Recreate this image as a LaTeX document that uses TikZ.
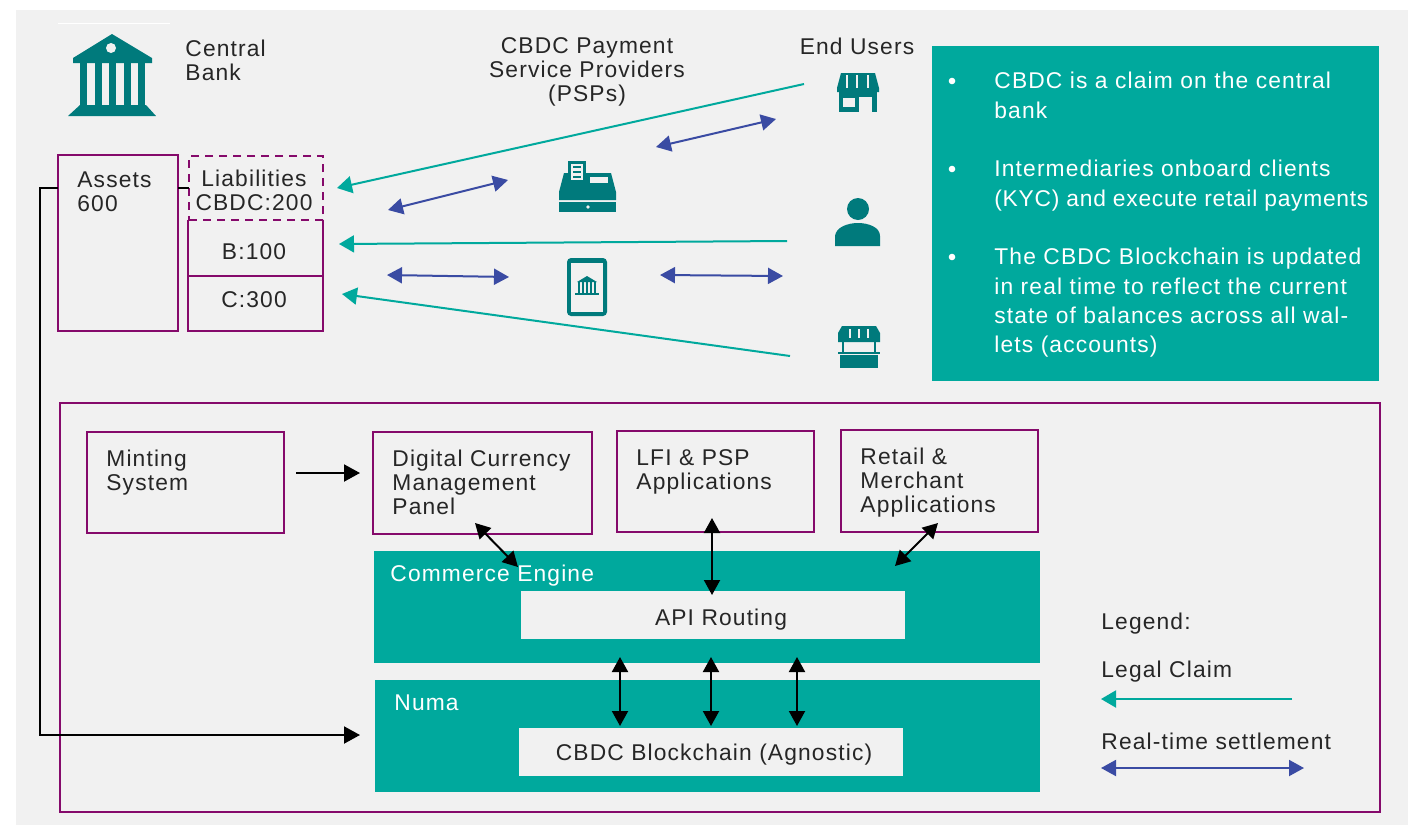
\documentclass[tikz,border=0pt]{standalone}
\usepackage{fontspec}
\setmainfont[LetterSpace=5]{Liberation Sans}
\usetikzlibrary{arrows.meta}
\definecolor{tealbox}{HTML}{00A99D}
\definecolor{tealicon}{HTML}{007A7C}
\definecolor{plum}{HTML}{850A6B}
\definecolor{settle}{HTML}{3A4BA3}
\definecolor{panel}{HTML}{F1F1F1}
\tikzset{
	boxline/.style={draw=plum,line width=1.4pt,inner sep=0pt,outer sep=0pt},
	label/.style={align=left,anchor=north west,font=\fontsize{11.4}{12}\selectfont,text=black!85,inner sep=0pt},
	mid/.style={align=center,font=\fontsize{11.4}{12}\selectfont,text=black!85,inner sep=0pt},
	whitetxt/.style={align=left,anchor=north west,font=\fontsize{11.4}{14.6}\selectfont,text=white,inner sep=0pt},
	claim/.style={-{Triangle[length=7.5pt,width=8.5pt]},draw=tealbox,line width=1pt},
	settlement/.style={{Triangle[length=7.5pt,width=8pt]}-{Triangle[length=7.5pt,width=8pt]},draw=settle,line width=1pt},
	link/.style={{Triangle[length=7.5pt,width=8pt]}-{Triangle[length=7.5pt,width=8pt]},draw=black,line width=1pt},
	feed/.style={-{Triangle[length=8pt,width=8.5pt]},draw=black,line width=1pt},
}
\begin{document}
\begin{tikzpicture}[x=0.5pt,y=-0.5pt]
	\useasboundingbox (0,0) rectangle (1408,825);
	\fill [panel] (16,10) rectangle (1408,825);
	\draw [white,line width=.5pt] (58,23) -- (170,23);
	% central bank icon
	\fill [tealicon] (112,34) -- (152,58) -- (152,63) -- (73,63) -- (73,58) -- cycle;
	\fill [panel] (111,48) circle (5);
	\foreach \i in {80,95,109,124,138} {\fill [tealicon] (\i,63) rectangle ++(7,42);}
	\fill [tealicon] (80,105) -- (146,105) -- (156,116) -- (68,116) -- cycle;
	\node [label] (central) at (185,40) {Central\\Bank};
	\node [mid] (psp) at (587,72) {CBDC Payment\\Service Providers\\(PSPs)};
	\node [mid] (users) at (857,46) {End Users};
	% balance sheet
	\node [boxline,minimum width=60pt,minimum height=88pt] (assets) at (118,243) {};
	\node [label] (assetstxt) at (77,171) {Assets\\600};
	\node [boxline,minimum width=67.5pt,minimum height=27.5pt] (cbox) at (255.5,303.5) {};
	\node [mid] (ctxt) at (254,300) {C:300};
	\node [boxline,dashed,dash pattern=on 4.2pt off 2.8pt,minimum width=67pt,minimum height=32pt] (cbdc) at (256,188) {};
	\draw [boxline] (cbdc.south -| cbox.west) -- (cbox.north west);
	\draw [boxline] (cbdc.south -| cbox.east) -- (cbox.north east);
	\node [mid] (btxt) at (254,252) {B:100};
	\node [mid] (cbdctxt) at (254,190) {Liabilities\\CBDC:200};
	\draw [black,line width=1pt] (assets.east |- cbdc.west) -- (cbdc.west);
	% end users and psp icons
	\fill [tealicon] (841,73) -- (875,73) -- (879,88) -- (879,92) -- (837,92) -- (837,88) -- cycle;
	\foreach \i in {847,857,868} {\draw [panel,line width=.9pt] (\i,75) -- (\i,88);}
	\fill [tealicon] (839,92) rectangle (877,112);
	\fill [panel] (843,98) rectangle (855,107);
	\fill [panel] (859,97) rectangle (872,112);
	\fill [tealicon] (858,209) circle (11);
	\fill [tealicon] (835,246) -- (835,236) .. controls (836,227) and (848,223) .. (858,223) .. controls (868,223) and (880,227) .. (880,236) -- (880,246) -- cycle;
	\fill [tealicon] (842,326) -- (876,326) -- (880,333) -- (880,342) -- (838,342) -- (838,333) -- cycle;
	\foreach \i in {850,859,868} {\draw [panel,line width=.9pt] (\i,329) -- (\i,338);}
	\draw [tealicon,line width=1pt] (838,353) -- (880,353);
	\draw [tealicon,line width=1pt] (843,342) -- (843,353);
	\draw [tealicon,line width=1pt] (875,342) -- (875,353);
	\fill [tealicon] (840,355) rectangle (878,368);
	\fill [tealicon] (559,200) -- (559,192) -- (564,173) -- (611,173) -- (616,192) -- (616,200) -- cycle;
	\fill [tealicon] (559,202) rectangle (616,212);
	\fill [panel] (588,207) circle (1.8);
	\fill [tealicon] (568,161) rectangle (586,183);
	\fill [panel] (571,164) rectangle (583,180);
	\foreach \y in {167,172,177} {\draw [tealicon,line width=.9pt] (573,\y) -- (581,\y);}
	\fill [panel] (590,177) rectangle (608,183);
	\fill [tealicon,rounded corners=2pt] (567,258) rectangle (607,316);
	\fill [panel] (571,263) rectangle (603,312);
	\fill [tealicon] (587,276) -- (597,282) -- (577,282) -- cycle;
	\foreach \i in {578,582,586,590,594} {\fill [tealicon] (\i,282) rectangle ++(2.4,11);}
	\fill [tealicon] (575,293) rectangle (599,295);
	% claims
	\coordinate (u1) at (804,84);
	\coordinate (u2) at (787,241);
	\coordinate (u3) at (790,356);
	\coordinate (l1) at (337,188);
	\coordinate (l2) at (339,244);
	\coordinate (l3) at (342,294);
	\draw [claim] (u1) -- (l1);
	\draw [claim] (u2) -- (l2);
	\draw [claim] (u3) -- (l3);
	% settlement
	\coordinate (s1) at (388,210);
	\coordinate (s2) at (508,180);
	\coordinate (s3) at (656,147);
	\coordinate (s4) at (776,119);
	\coordinate (s5) at (387,275);
	\coordinate (s6) at (509,277);
	\coordinate (s7) at (660,275);
	\coordinate (s8) at (783,276);
	\draw [settlement] (s1) -- (s2);
	\draw [settlement] (s3) -- (s4);
	\draw [settlement] (s5) -- (s6);
	\draw [settlement] (s7) -- (s8);
	% note
	\node [fill=tealbox,minimum width=223.5pt,minimum height=167.5pt,inner sep=0pt] (note) at (1155.5,213.5) {};
	\foreach \y in {81,169,257} {\fill [white] (952,\y) circle (3.3);}
	\node [whitetxt] (note1) at (994,72) {CBDC is a claim on the central\\bank};
	\node [whitetxt] (note2) at (994,160) {Intermediaries onboard clients\\{\addfontfeature{LetterSpace=3.2}(KYC) and execute retail payments}};
	\node [whitetxt] (note3) at (994,248) {The CBDC Blockchain is updated\\in real time to reflect the current\\state of balances across all wal-\\lets (accounts)};
	% platform
	\node [boxline,line width=1.3pt,minimum width=660pt,minimum height=204.5pt] (platform) at (720,607.5) {};
	\node [boxline,minimum width=98.5pt,minimum height=50.5pt] (mint) at (185.5,482.5) {};
	\node [label] (minttxt) at (106,450) {Minting\\System};
	\node [boxline,minimum width=109.5pt,minimum height=51pt] (panelbox) at (482.5,483) {};
	\node [label] (paneltxt) at (392,450) {Digital Currency\\Management\\Panel};
	\node [boxline,minimum width=98.5pt,minimum height=50.5pt] (lfi) at (715.5,481.5) {};
	\node [label] (lfitxt) at (636,449) {LFI \& PSP\\Applications};
	\node [boxline,minimum width=98.5pt,minimum height=51pt] (retail) at (939.5,481) {};
	\node [label] (retailtxt) at (860,448) {Retail \&\\Merchant\\Applications};
	\node [fill=tealbox,minimum width=333pt,minimum height=56pt,inner sep=0pt] (engine) at (707,607) {};
	\node [label,text=white] (enginetxt) at (390,565) {Commerce Engine};
	\node [fill=panel,minimum width=192pt,minimum height=24pt,inner sep=0pt] (api) at (713,615) {};
	\node [mid] (apitxt) at (721,620) {API Routing};
	\node [fill=tealbox,minimum width=332.5pt,minimum height=56pt,inner sep=0pt] (numa) at (707.5,736) {};
	\node [label,text=white] (numatxt) at (394,694) {Numa};
	\node [fill=panel,minimum width=192pt,minimum height=24pt,inner sep=0pt] (chain) at (711,752) {};
	\node [mid] (chaintxt) at (714,755) {CBDC Blockchain (Agnostic)};
	% black arrows
	\coordinate (m1) at (296,473);
	\coordinate (m2) at (360,473);
	\coordinate (a1) at (475,523);
	\coordinate (a2) at (518,567);
	\coordinate (a3) at (712,518);
	\coordinate (a4) at (712,595);
	\coordinate (a5) at (938,523);
	\coordinate (a6) at (895,566);
	\draw [feed] (m1) -- (m2);
	\draw [link] (a1) -- (a2);
	\draw [link] (a3) -- (a4);
	\draw [link] (a5) -- (a6);
	\foreach \x in {620,711,797} {\draw [link] (\x,657) -- (\x,726);}
	\coordinate (tap) at (assets.west |- cbdc.west);
	\coordinate (n1) at (360,735);
	\draw [feed] (tap) -- (40,188) -- (40,735) -- (n1);
	% legend
	\node [label] (legend) at (1101,613) {Legend:};
	\node [label] (legal) at (1101,661) {Legal Claim};
	\node [label] (real) at (1101,733) {Real-time settlement};
	\coordinate (c1) at (1292,699);
	\coordinate (c2) at (1101,699);
	\coordinate (c3) at (1101,768);
	\coordinate (c4) at (1304,768);
	\draw [claim] (c1) -- (c2);
	\draw [settlement] (c3) -- (c4);
\end{tikzpicture}
\end{document}
